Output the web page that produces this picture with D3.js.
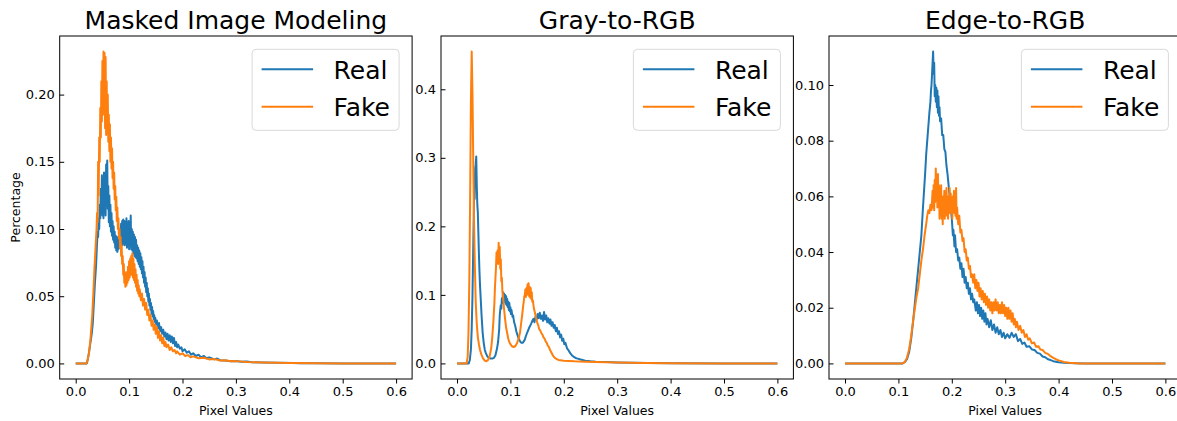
<!DOCTYPE html>
<html>
<head>
<meta charset="utf-8">
<script src="https://cdnjs.cloudflare.com/ajax/libs/d3/7.8.5/d3.min.js"></script>
<style>
  body { margin: 0; background: #fff; }
  svg text { font-family: "DejaVu Sans", sans-serif; fill: #000; }
</style>
</head>
<body>
<script>
// ---- data ----
const titles = ["Masked Image Modeling", "Gray-to-RGB", "Edge-to-RGB"];
const seriesNames = ["Real", "Fake"];
const xTicks = [0, 0.1, 0.2, 0.3, 0.4, 0.5, 0.6];
const mimTicks = [0, 0.05, 0.1, 0.15, 0.2];
const g2rTicks = [0, 0.1, 0.2, 0.3, 0.4];
const e2rTicks = [0, 0.02, 0.04, 0.06, 0.08, 0.1];

const mimReal = [[0,0],[0.021,0],[0.024,0.006],[0.027,0.014],[0.030,0.022],[0.032,0.03],[0.034,0.045],[0.036,0.06],[0.038,0.072],[0.040,0.09],[0.041,0.098],[0.042,0.094],[0.043,0.108],[0.044,0.1],[0.045,0.118],[0.046,0.108],[0.047,0.13],[0.048,0.112],[0.049,0.14],[0.050,0.11],[0.051,0.135],[0.052,0.108],[0.053,0.142],[0.054,0.112],[0.055,0.128],[0.056,0.11],[0.057,0.148],[0.058,0.118],[0.059,0.151],[0.060,0.115],[0.061,0.132],[0.062,0.105],[0.063,0.125],[0.064,0.102],[0.065,0.118],[0.066,0.098],[0.067,0.112],[0.068,0.095],[0.069,0.106],[0.070,0.092],[0.071,0.102],[0.072,0.09],[0.073,0.098],[0.074,0.086],[0.075,0.095],[0.076,0.084],[0.077,0.094],[0.078,0.083],[0.079,0.092],[0.080,0.085],[0.081,0.096],[0.082,0.086],[0.083,0.1],[0.084,0.088],[0.085,0.104],[0.086,0.09],[0.087,0.106],[0.088,0.088],[0.089,0.107],[0.090,0.09],[0.091,0.106],[0.092,0.088],[0.093,0.105],[0.094,0.09],[0.095,0.108],[0.096,0.086],[0.097,0.104],[0.098,0.088],[0.099,0.106],[0.100,0.085],[0.101,0.103],[0.102,0.09],[0.103,0.11],[0.104,0.085],[0.105,0.1],[0.106,0.084],[0.107,0.098],[0.108,0.082],[0.109,0.096],[0.110,0.08],[0.111,0.094],[0.112,0.079],[0.113,0.092],[0.114,0.078],[0.115,0.088],[0.116,0.076],[0.117,0.086],[0.118,0.074],[0.119,0.084],[0.120,0.072],[0.121,0.082],[0.122,0.07],[0.123,0.079],[0.124,0.067],[0.125,0.076],[0.126,0.064],[0.127,0.072],[0.128,0.06],[0.129,0.068],[0.130,0.057],[0.131,0.064],[0.132,0.053],[0.133,0.06],[0.134,0.05],[0.135,0.056],[0.136,0.046],[0.137,0.052],[0.138,0.043],[0.139,0.048],[0.140,0.04],[0.141,0.045],[0.142,0.037],[0.143,0.042],[0.144,0.035],[0.145,0.039],[0.146,0.033],[0.147,0.036],[0.148,0.031],[0.149,0.034],[0.150,0.029],[0.152,0.032],[0.154,0.026],[0.156,0.03],[0.158,0.024],[0.160,0.027],[0.162,0.022],[0.164,0.025],[0.166,0.02],[0.168,0.023],[0.170,0.018],[0.172,0.022],[0.174,0.017],[0.176,0.021],[0.178,0.016],[0.180,0.02],[0.182,0.015],[0.184,0.019],[0.186,0.013],[0.188,0.016],[0.19,0.012],[0.192,0.014],[0.195,0.011],[0.198,0.012],[0.2,0.009],[0.204,0.0105],[0.208,0.008],[0.212,0.009],[0.216,0.0065],[0.22,0.0075],[0.225,0.0055],[0.23,0.0065],[0.235,0.0045],[0.24,0.0055],[0.245,0.0038],[0.25,0.0045],[0.26,0.003],[0.265,0.0036],[0.27,0.0024],[0.28,0.0022],[0.29,0.0016],[0.3,0.0018],[0.31,0.0012],[0.32,0.0014],[0.33,0.0008],[0.35,0.0007],[0.38,0.0004],[0.41,0.0003],[0.42,0.0001],[0.45,0.0001],[0.5,0],[0.6,0]];
const mimFake = [[0,0],[0.02,0],[0.022,0.002],[0.025,0.008],[0.028,0.02],[0.031,0.036],[0.033,0.052],[0.035,0.07],[0.037,0.085],[0.039,0.1],[0.040,0.112],[0.041,0.105],[0.042,0.15],[0.043,0.125],[0.044,0.168],[0.045,0.15],[0.046,0.19],[0.047,0.168],[0.048,0.21],[0.049,0.18],[0.050,0.225],[0.051,0.185],[0.052,0.232],[0.053,0.19],[0.054,0.231],[0.055,0.175],[0.056,0.228],[0.057,0.17],[0.058,0.21],[0.059,0.172],[0.060,0.2],[0.061,0.165],[0.062,0.185],[0.063,0.158],[0.064,0.178],[0.065,0.15],[0.066,0.168],[0.067,0.145],[0.068,0.16],[0.069,0.138],[0.070,0.15],[0.071,0.13],[0.072,0.142],[0.073,0.122],[0.074,0.132],[0.075,0.114],[0.076,0.124],[0.077,0.106],[0.078,0.116],[0.079,0.1],[0.080,0.108],[0.081,0.093],[0.082,0.1],[0.083,0.086],[0.084,0.094],[0.085,0.08],[0.086,0.088],[0.087,0.074],[0.088,0.08],[0.089,0.066],[0.090,0.074],[0.091,0.06],[0.092,0.068],[0.093,0.057],[0.094,0.066],[0.095,0.058],[0.096,0.068],[0.097,0.06],[0.098,0.072],[0.099,0.062],[0.100,0.076],[0.101,0.064],[0.102,0.078],[0.103,0.066],[0.104,0.08],[0.105,0.066],[0.106,0.082],[0.107,0.064],[0.108,0.078],[0.109,0.062],[0.110,0.074],[0.111,0.06],[0.112,0.07],[0.113,0.057],[0.114,0.066],[0.115,0.054],[0.116,0.062],[0.117,0.052],[0.118,0.058],[0.119,0.05],[0.120,0.055],[0.122,0.047],[0.124,0.052],[0.126,0.043],[0.128,0.048],[0.130,0.04],[0.132,0.045],[0.134,0.036],[0.136,0.04],[0.138,0.032],[0.140,0.036],[0.142,0.028],[0.144,0.032],[0.146,0.025],[0.148,0.029],[0.150,0.022],[0.152,0.027],[0.154,0.019],[0.156,0.024],[0.158,0.017],[0.160,0.021],[0.162,0.015],[0.164,0.019],[0.166,0.013],[0.168,0.016],[0.170,0.012],[0.173,0.014],[0.176,0.01],[0.179,0.012],[0.182,0.009],[0.185,0.01],[0.188,0.0075],[0.19,0.009],[0.195,0.0065],[0.2,0.0075],[0.205,0.0055],[0.21,0.0062],[0.215,0.0045],[0.22,0.0052],[0.23,0.0038],[0.24,0.0042],[0.25,0.003],[0.26,0.0032],[0.27,0.0022],[0.28,0.0024],[0.29,0.0016],[0.3,0.0017],[0.32,0.001],[0.35,0.0007],[0.4,0.0003],[0.45,0.0001],[0.5,0],[0.6,0]];

const g2rReal = [[0,0],[0.022,0],[0.024,0.005],[0.026,0.02],[0.0275,0.05],[0.029,0.1],[0.030,0.15],[0.031,0.2],[0.032,0.25],[0.033,0.24],[0.034,0.285],[0.035,0.29],[0.036,0.302],[0.037,0.26],[0.038,0.232],[0.039,0.22],[0.040,0.19],[0.041,0.16],[0.042,0.135],[0.043,0.115],[0.044,0.1],[0.045,0.085],[0.046,0.07],[0.048,0.045],[0.050,0.03],[0.052,0.02],[0.054,0.015],[0.057,0.01],[0.060,0.008],[0.063,0.007],[0.066,0.007],[0.069,0.008],[0.072,0.012],[0.075,0.022],[0.077,0.032],[0.079,0.05],[0.080,0.07],[0.081,0.078],[0.082,0.085],[0.083,0.08],[0.084,0.095],[0.085,0.088],[0.086,0.104],[0.087,0.092],[0.088,0.102],[0.089,0.09],[0.090,0.1],[0.091,0.087],[0.092,0.098],[0.093,0.085],[0.094,0.094],[0.095,0.082],[0.096,0.09],[0.097,0.078],[0.098,0.088],[0.099,0.076],[0.100,0.082],[0.101,0.072],[0.102,0.078],[0.104,0.068],[0.105,0.07],[0.107,0.06],[0.109,0.055],[0.111,0.047],[0.113,0.042],[0.115,0.037],[0.117,0.034],[0.119,0.031],[0.121,0.03],[0.123,0.03],[0.125,0.032],[0.127,0.035],[0.129,0.04],[0.131,0.044],[0.133,0.048],[0.135,0.052],[0.137,0.055],[0.139,0.058],[0.141,0.062],[0.143,0.065],[0.145,0.06],[0.147,0.068],[0.149,0.064],[0.151,0.072],[0.153,0.066],[0.155,0.074],[0.157,0.065],[0.159,0.07],[0.161,0.062],[0.163,0.075],[0.165,0.064],[0.167,0.07],[0.169,0.06],[0.171,0.066],[0.173,0.058],[0.175,0.064],[0.177,0.055],[0.179,0.06],[0.181,0.052],[0.183,0.056],[0.185,0.047],[0.187,0.052],[0.189,0.043],[0.191,0.047],[0.193,0.038],[0.195,0.042],[0.197,0.033],[0.199,0.036],[0.201,0.028],[0.203,0.03],[0.206,0.022],[0.209,0.019],[0.212,0.015],[0.215,0.012],[0.218,0.01],[0.222,0.008],[0.226,0.007],[0.23,0.006],[0.235,0.005],[0.24,0.004],[0.25,0.003],[0.26,0.0025],[0.28,0.002],[0.3,0.0015],[0.33,0.001],[0.36,0.0006],[0.4,0.0002],[0.5,0],[0.6,0]];
const g2rFake = [[0,0],[0.018,0],[0.020,0.01],[0.0215,0.045],[0.023,0.12],[0.0245,0.235],[0.026,0.38],[0.0275,0.455],[0.029,0.39],[0.0305,0.29],[0.032,0.2],[0.0335,0.14],[0.035,0.09],[0.037,0.058],[0.039,0.038],[0.041,0.028],[0.043,0.02],[0.046,0.012],[0.049,0.007],[0.052,0.004],[0.055,0.003],[0.058,0.005],[0.061,0.01],[0.064,0.022],[0.066,0.038],[0.068,0.06],[0.070,0.088],[0.071,0.11],[0.072,0.125],[0.073,0.14],[0.074,0.162],[0.075,0.15],[0.076,0.165],[0.077,0.145],[0.078,0.176],[0.079,0.15],[0.080,0.17],[0.081,0.138],[0.082,0.152],[0.083,0.12],[0.084,0.125],[0.085,0.105],[0.086,0.1],[0.088,0.08],[0.090,0.065],[0.092,0.052],[0.094,0.044],[0.096,0.036],[0.098,0.031],[0.100,0.028],[0.103,0.025],[0.106,0.024],[0.109,0.025],[0.112,0.029],[0.115,0.035],[0.118,0.045],[0.120,0.058],[0.122,0.07],[0.124,0.085],[0.125,0.09],[0.126,0.098],[0.127,0.1],[0.128,0.108],[0.129,0.097],[0.130,0.11],[0.131,0.1],[0.132,0.115],[0.133,0.102],[0.134,0.117],[0.135,0.098],[0.136,0.112],[0.137,0.096],[0.138,0.11],[0.139,0.094],[0.140,0.104],[0.141,0.09],[0.142,0.092],[0.144,0.08],[0.146,0.074],[0.148,0.066],[0.150,0.06],[0.152,0.056],[0.154,0.05],[0.156,0.048],[0.158,0.044],[0.160,0.042],[0.162,0.038],[0.164,0.036],[0.166,0.032],[0.168,0.03],[0.170,0.026],[0.172,0.024],[0.174,0.02],[0.176,0.017],[0.178,0.014],[0.180,0.011],[0.182,0.009],[0.185,0.007],[0.19,0.005],[0.2,0.004],[0.21,0.0035],[0.22,0.003],[0.24,0.0025],[0.26,0.002],[0.3,0.0012],[0.35,0.0006],[0.4,0.0002],[0.5,0],[0.6,0]];

const e2rReal = [[0,0],[0.108,0],[0.112,0.0005],[0.116,0.0015],[0.12,0.004],[0.124,0.009],[0.128,0.016],[0.131,0.022],[0.134,0.028],[0.137,0.034],[0.140,0.04],[0.143,0.046],[0.146,0.056],[0.148,0.062],[0.150,0.068],[0.152,0.075],[0.154,0.08],[0.156,0.085],[0.158,0.09],[0.160,0.094],[0.161,0.098],[0.162,0.1],[0.163,0.104],[0.164,0.108],[0.165,0.112],[0.166,0.104],[0.167,0.108],[0.168,0.096],[0.169,0.1],[0.170,0.094],[0.171,0.099],[0.172,0.092],[0.173,0.098],[0.174,0.09],[0.175,0.096],[0.176,0.089],[0.177,0.092],[0.178,0.087],[0.180,0.088],[0.182,0.082],[0.184,0.082],[0.186,0.077],[0.188,0.076],[0.190,0.071],[0.192,0.068],[0.194,0.064],[0.196,0.06],[0.198,0.056],[0.200,0.052],[0.202,0.046],[0.203,0.048],[0.205,0.042],[0.206,0.046],[0.208,0.04],[0.210,0.041],[0.212,0.037],[0.214,0.038],[0.216,0.034],[0.218,0.036],[0.220,0.031],[0.222,0.034],[0.224,0.029],[0.226,0.031],[0.228,0.027],[0.230,0.029],[0.232,0.025],[0.234,0.027],[0.236,0.023],[0.238,0.025],[0.240,0.022],[0.242,0.023],[0.245,0.019],[0.247,0.022],[0.249,0.018],[0.251,0.021],[0.253,0.017],[0.255,0.02],[0.257,0.016],[0.259,0.019],[0.261,0.015],[0.263,0.018],[0.265,0.014],[0.267,0.016],[0.27,0.013],[0.273,0.0155],[0.276,0.012],[0.279,0.014],[0.282,0.011],[0.285,0.013],[0.288,0.0105],[0.291,0.012],[0.294,0.0095],[0.297,0.011],[0.3,0.009],[0.304,0.0105],[0.308,0.0092],[0.312,0.011],[0.316,0.0095],[0.32,0.0105],[0.324,0.008],[0.328,0.0088],[0.332,0.007],[0.336,0.0075],[0.34,0.006],[0.345,0.0062],[0.35,0.005],[0.355,0.0048],[0.36,0.0038],[0.365,0.0035],[0.37,0.0025],[0.375,0.0022],[0.38,0.0015],[0.385,0.0012],[0.39,0.0008],[0.4,0.0004],[0.41,0.0002],[0.43,0.0001],[0.45,0],[0.6,0]];
const e2rFake = [[0,0],[0.108,0],[0.112,0.0005],[0.116,0.002],[0.12,0.005],[0.124,0.01],[0.128,0.016],[0.131,0.02],[0.134,0.024],[0.137,0.027],[0.140,0.032],[0.143,0.037],[0.146,0.041],[0.149,0.046],[0.152,0.05],[0.154,0.053],[0.156,0.055],[0.158,0.054],[0.160,0.057],[0.162,0.055],[0.164,0.062],[0.165,0.056],[0.166,0.064],[0.167,0.055],[0.168,0.066],[0.169,0.058],[0.170,0.07],[0.171,0.06],[0.172,0.066],[0.173,0.056],[0.174,0.068],[0.175,0.058],[0.176,0.064],[0.177,0.052],[0.178,0.06],[0.179,0.054],[0.180,0.064],[0.181,0.052],[0.182,0.058],[0.183,0.05],[0.184,0.06],[0.185,0.054],[0.186,0.062],[0.187,0.052],[0.188,0.06],[0.189,0.055],[0.190,0.063],[0.191,0.053],[0.192,0.06],[0.193,0.052],[0.194,0.058],[0.195,0.054],[0.196,0.063],[0.197,0.055],[0.198,0.061],[0.199,0.054],[0.200,0.058],[0.201,0.052],[0.202,0.06],[0.203,0.055],[0.204,0.062],[0.205,0.054],[0.206,0.058],[0.207,0.053],[0.208,0.063],[0.209,0.052],[0.210,0.056],[0.212,0.05],[0.214,0.053],[0.216,0.047],[0.218,0.048],[0.220,0.044],[0.222,0.045],[0.224,0.04],[0.226,0.041],[0.228,0.037],[0.230,0.038],[0.232,0.034],[0.234,0.035],[0.236,0.031],[0.238,0.032],[0.240,0.029],[0.242,0.032],[0.244,0.027],[0.246,0.03],[0.248,0.026],[0.250,0.029],[0.252,0.024],[0.254,0.027],[0.256,0.023],[0.258,0.026],[0.260,0.022],[0.262,0.025],[0.264,0.021],[0.266,0.024],[0.268,0.02],[0.27,0.023],[0.272,0.019],[0.274,0.022],[0.276,0.018],[0.278,0.022],[0.28,0.019],[0.282,0.023],[0.284,0.019],[0.286,0.022],[0.288,0.018],[0.29,0.021],[0.292,0.018],[0.294,0.022],[0.296,0.018],[0.298,0.021],[0.3,0.017],[0.302,0.02],[0.304,0.016],[0.306,0.02],[0.308,0.016],[0.31,0.019],[0.312,0.015],[0.314,0.018],[0.316,0.014],[0.318,0.016],[0.32,0.013],[0.322,0.015],[0.325,0.012],[0.328,0.0135],[0.331,0.011],[0.334,0.012],[0.337,0.0095],[0.34,0.0105],[0.343,0.0085],[0.346,0.009],[0.35,0.0072],[0.354,0.0075],[0.358,0.006],[0.362,0.0062],[0.366,0.005],[0.37,0.0048],[0.375,0.0038],[0.38,0.0034],[0.385,0.0026],[0.39,0.002],[0.395,0.0015],[0.4,0.0011],[0.41,0.0005],[0.42,0.0002],[0.44,0],[0.6,0]];

// ---- layout ----
const w = 1177, h = 421;
const plotTop = 36, plotH = 343, plotW = 352.4;
const colors = ["#1f77b4", "#ff7f0e"];

const panels = [
  { title: titles[0], real: mimReal, fake: mimFake, yTicks: mimTicks, fmt: ".2f", left: 59.7 },
  { title: titles[1], real: g2rReal, fake: g2rFake, yTicks: g2rTicks, fmt: ".1f", left: 441 },
  { title: titles[2], real: e2rReal, fake: e2rFake, yTicks: e2rTicks, fmt: ".2f", left: 829 }
];

const svg = d3.select("body")
  .append("svg")
  .attr("width", w)
  .attr("height", h);

panels.forEach((p, i) => {
  const g = svg.append("g").attr("transform", "translate(" + p.left + "," + plotTop + ")");

  // matplotlib style 5% margins
  const xScale = d3.scaleLinear().domain([-0.03, 0.63]).range([0, plotW]);
  const ymax = d3.max(p.real.concat(p.fake), d => d[1]);
  const yScale = d3.scaleLinear().domain([-0.05 * ymax, 1.05 * ymax]).range([plotH, 0]);

  const xAxis = d3.axisBottom(xScale).tickValues(xTicks).tickFormat(d3.format(".1f")).tickSize(4.5).tickPadding(3);
  // y ticks point into the plot in the original
  const yAxis = d3.axisLeft(yScale).tickValues(p.yTicks).tickFormat(d3.format(p.fmt)).tickSize(-4.5).tickPadding(5);

  const line = d3.line().x(d => xScale(d[0])).y(d => yScale(d[1]));

  [p.real, p.fake].forEach((s, k) => {
    g.append("path")
      .datum(s)
      .attr("d", line)
      .attr("fill", "none")
      .attr("stroke", colors[k])
      .attr("stroke-width", 2)
      .attr("stroke-linejoin", "round");
  });

  const xg = g.append("g").attr("transform", "translate(0," + plotH + ")").call(xAxis);
  const yg = g.append("g").call(yAxis);
  [xg, yg].forEach(a => {
    a.select(".domain").remove();
    a.selectAll("text").style("font-size", "13px").attr("fill", "#000");
    a.selectAll(".tick line").attr("stroke", "#000");
  });

  g.append("rect")
    .attr("width", plotW)
    .attr("height", plotH)
    .attr("fill", "none")
    .attr("stroke", "#000")
    .attr("stroke-width", 1);

  g.append("text")
    .attr("x", plotW / 2)
    .attr("y", -7)
    .attr("text-anchor", "middle")
    .style("font-size", "25px")
    .text(p.title);

  g.append("text")
    .attr("x", plotW / 2)
    .attr("y", plotH + 36)
    .attr("text-anchor", "middle")
    .style("font-size", "12.5px")
    .text("Pixel Values");

  if (i === 0) {
    g.append("text")
      .attr("transform", "translate(" + (20 - p.left) + "," + plotH / 2 + ") rotate(-90)")
      .attr("text-anchor", "middle")
      .style("font-size", "12.5px")
      .text("Percentage");
  }

  // legend
  const lg = g.append("g").attr("transform", "translate(" + (plotW - 160) + ",13.3)");
  lg.append("rect")
    .attr("width", 147)
    .attr("height", 81)
    .attr("rx", 4)
    .attr("fill", "#fff")
    .attr("fill-opacity", 0.8)
    .attr("stroke", "#d9d9d9");
  seriesNames.forEach((n, k) => {
    const yy = 20 + k * 37.4;
    lg.append("line")
      .attr("x1", 9.5).attr("x2", 61)
      .attr("y1", yy).attr("y2", yy)
      .attr("stroke", colors[k])
      .attr("stroke-width", 2);
    lg.append("text")
      .attr("x", 81.5)
      .attr("y", yy + 9.5)
      .style("font-size", "25px")
      .text(n);
  });
});
</script>
</body>
</html>
